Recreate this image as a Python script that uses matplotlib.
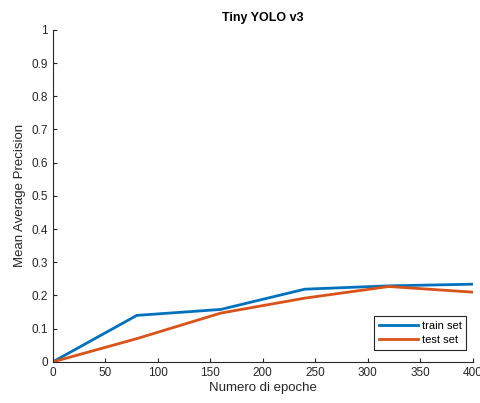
import matplotlib
matplotlib.use("Agg")
import matplotlib.pyplot as plt

plt.rcParams['font.family'] = ['Liberation Sans', 'DejaVu Sans']

epochs = [0, 80, 160, 240, 320, 400]
train_map = [0.0, 0.140, 0.158, 0.219, 0.229, 0.234]
test_map = [0.0, 0.070, 0.147, 0.192, 0.227, 0.210]

fig = plt.figure(figsize=(4.8, 4.03), dpi=100)
ax = fig.add_axes([0.110, 0.102, 0.875, 0.824])

ax.plot(epochs, train_map, color='#0072BD', linewidth=2, label='train set')
ax.plot(epochs, test_map, color='#D95319', linewidth=2, label='test set')

ax.set_xlim(0, 400)
ax.set_ylim(0, 1)
ax.set_xticks(range(0, 401, 50))
ax.set_yticks([i / 10 for i in range(11)])
ax.set_yticklabels(['0', '0.1', '0.2', '0.3', '0.4', '0.5', '0.6', '0.7', '0.8', '0.9', '1'])

for s in ['top', 'right']:
    ax.spines[s].set_visible(False)
for s in ['left', 'bottom']:
    ax.spines[s].set_color('#262626')
    ax.spines[s].set_linewidth(0.8)
ax.tick_params(direction='in', length=3, width=0.8, colors='#262626', labelsize=8.5)

ax.set_title('Tiny YOLO v3', fontsize=9, fontweight='bold', color='black')
ax.set_xlabel('Numero di epoche', fontsize=9.5, color='#262626', labelpad=2)
ax.set_ylabel('Mean Average Precision', fontsize=9.5, color='#262626', labelpad=4)

leg = ax.legend(loc='lower right', bbox_to_anchor=(0.998, 0.02), fontsize=8,
                fancybox=False, edgecolor='#262626', framealpha=1,
                handlelength=3.5, handletextpad=0.3, borderpad=0.45, labelspacing=0.35)
leg.get_frame().set_linewidth(0.8)

fig.savefig('out.png', dpi=100)
